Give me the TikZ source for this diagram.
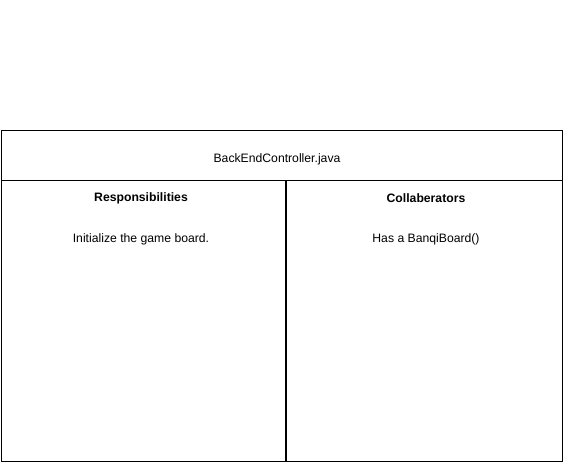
\documentclass[tikz,border=0pt]{standalone}
\usepackage{fontspec}
\setmainfont{Liberation Sans}
\usetikzlibrary{positioning}
\begin{document}
\begin{tikzpicture}[x=1pt, y=-1pt, font=\fontsize{12.2}{14}\selectfont, line width=1pt,
	cardbox/.style={draw, anchor=north west, inner sep=0pt},
	label/.style={anchor=center, inner sep=1pt}]
	\useasboundingbox (0,0) rectangle (566,462);
	% card frame
	\node[cardbox, minimum width=561pt, minimum height=50pt] (head) at (0.5,130.5) {};
	\node[cardbox, minimum width=284pt, minimum height=281pt] (resp) at (0.5,180.5) {};
	\node[cardbox, minimum width=275.5pt, minimum height=281pt] (coll) at (286,180.5) {};
	% texts
	\node[label] (title) at (277,159) {BackEndController.java};
	\node[label, font=\fontsize{12.2}{14}\selectfont\bfseries] (resptitle) at (141,198.5) {Responsibilities};
	\node[label] (resp1) at (141,239) {Initialize the game board.};
	\node[label, font=\fontsize{12.2}{14}\selectfont\bfseries] (colltitle) at (426,198.5) {Collaberators};
	\node[label] (coll1) at (426,239) {Has a BanqiBoard()};
\end{tikzpicture}
\end{document}
